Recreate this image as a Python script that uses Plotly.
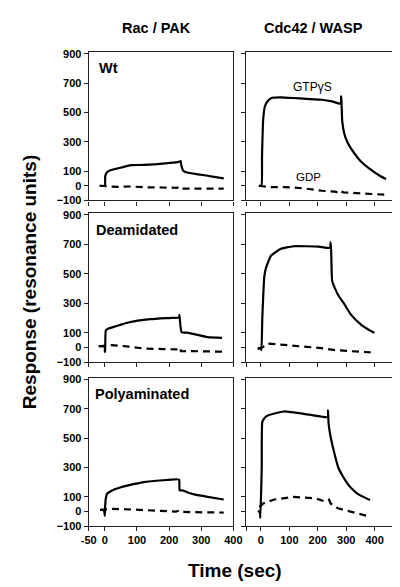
import plotly.graph_objects as go

# ---------------- data ----------------
# Rac / PAK, Wt
rac_wt_t = [-16, 0, 1, 3, 10, 18, 40, 82, 120, 162, 200, 230, 236, 238, 245, 256, 290, 320, 350, 370]
rac_wt_gtp = [0, 0, 60, 79, 98, 106, 118, 140, 142, 147, 155, 163, 169, 140, 100, 90, 78, 68, 57, 50]
rac_wt_gdp_t = [-16, 10, 40, 80, 120, 180, 225, 230, 234, 250, 300, 370]
rac_wt_gdp = [0, -2, -8, -5, -10, -12, -14, -8, -20, -20, -18, -20]

# Cdc42 / WASP, Wt
cdc_wt_t = [-7, 2, 4, 8, 14, 25, 40, 70, 114, 160, 215, 250, 281, 282, 283, 286, 294, 305, 327, 350, 384, 418, 440]
cdc_wt_gtp = [0, 0, 200, 450, 540, 580, 600, 603, 598, 592, 586, 575, 559, 610, 590, 440, 349, 293, 225, 169, 113, 68, 45]
cdc_wt_gdp_t = [-7, 36, 80, 114, 160, 215, 260, 275, 280, 290, 350, 438]
cdc_wt_gdp = [0, -10, -10, -12, -20, -34, -40, -48, -36, -45, -52, -61]

# Rac / PAK, Deamidated
rac_de_t = [-19, -5, 0, 0, 1, 3, 10, 23, 50, 73, 142, 200, 231, 232, 233, 239, 260, 281, 320, 365]
rac_de_gtp = [9, 8, 5, -30, -20, 115, 128, 137, 155, 170, 192, 200, 204, 222, 200, 104, 100, 89, 71, 66]
rac_de_gdp_t = [-19, 20, 60, 122, 180, 231, 234, 237, 266, 320, 365]
rac_de_gdp = [9, 16, 10, -7, -10, -13, -2, -25, -24, -26, -28]

# Cdc42 / WASP, Deamidated
cdc_de_t = [-11, 0, 2, 5, 8, 12, 19, 36, 69, 114, 160, 204, 243, 245, 247, 251, 271, 294, 316, 350, 384, 399]
cdc_de_gtp = [-7, -7, -17, 200, 336, 480, 546, 623, 668, 686, 686, 683, 674, 712, 660, 447, 358, 292, 225, 159, 115, 100]
cdc_de_gdp_t = [-11, 5, 25, 70, 114, 160, 204, 260, 320, 386]
cdc_de_gdp = [-7, 0, 27, 18, 11, 5, -2, -17, -25, -33]

# Rac / PAK, Polyaminated
rac_po_t = [-15, -3, 0, 1, 3, 7, 23, 50, 73, 122, 192, 231, 232, 233, 242, 260, 281, 320, 370]
rac_po_gtp = [11, 11, -29, 40, 89, 122, 144, 165, 178, 200, 215, 218, 180, 144, 144, 128, 115, 100, 82]
rac_po_gdp_t = [-15, 23, 70, 122, 180, 221, 234, 240, 266, 320, 370]
rac_po_gdp = [11, 18, 15, 11, 5, 0, 8, -2, -4, -6, -7]

# Cdc42 / WASP, Polyaminated
cdc_po_t = [-11, -4, -2, 3, 5, 14, 25, 81, 171, 235, 236, 238, 244, 258, 272, 288, 305, 320, 339, 360, 384]
cdc_po_gtp = [0, 0, -44, 300, 611, 640, 655, 682, 660, 644, 689, 600, 522, 400, 300, 240, 189, 155, 122, 100, 78]
cdc_po_gdp_t = [-5, 8, 47, 114, 193, 227, 240, 245, 271, 320, 372]
cdc_po_gdp = [30, 55, 82, 100, 89, 67, 80, 55, 22, -5, -29]

y_ticks = [-100, 0, 100, 300, 500, 700, 900]
x_ticks = [-50, 0, 100, 200, 300, 400]
col_titles = ["Rac / PAK", "Cdc42 / WASP"]
row_labels = ["Wt", "Deamidated", "Polyaminated"]

panels = [
    (rac_wt_t, rac_wt_gtp, rac_wt_gdp_t, rac_wt_gdp),
    (cdc_wt_t, cdc_wt_gtp, cdc_wt_gdp_t, cdc_wt_gdp),
    (rac_de_t, rac_de_gtp, rac_de_gdp_t, rac_de_gdp),
    (cdc_de_t, cdc_de_gtp, cdc_de_gdp_t, cdc_de_gdp),
    (rac_po_t, rac_po_gtp, rac_po_gdp_t, rac_po_gdp),
    (cdc_po_t, cdc_po_gtp, cdc_po_gdp_t, cdc_po_gdp),
]

# ---------------- layout geometry (pixels) ----------------
W, H = 400, 587
col_px = [(76, 227), (240, 393)]
row_px = [(40, 191), (204, 356), (372, 523)]
x_ranges = [[-50, 400], [-53, 462]]
FONT = "Liberation Sans, Arial, sans-serif"

fig = go.Figure()
layout = dict(
    width=W, height=H, margin=dict(l=0, r=0, t=0, b=0),
    paper_bgcolor="white", plot_bgcolor="white", showlegend=False,
    font=dict(family=FONT, color="black"),
)

for i, (t1, v1, t2, v2) in enumerate(panels):
    r, c = divmod(i, 2)
    n = i + 1
    xa = "x" if n == 1 else f"x{n}"
    ya = "y" if n == 1 else f"y{n}"
    fig.add_trace(go.Scatter(x=t1, y=v1, mode="lines", xaxis=xa, yaxis=ya,
                             line=dict(color="black", width=2.2, shape="spline", smoothing=0.4)))
    fig.add_trace(go.Scatter(x=t2, y=v2, mode="lines", xaxis=xa, yaxis=ya,
                             line=dict(color="black", width=2.2, dash="7px,5px")))
    x0, x1 = col_px[c]
    y0, y1 = row_px[r]
    xkey = "xaxis" if n == 1 else f"xaxis{n}"
    ykey = "yaxis" if n == 1 else f"yaxis{n}"
    show_xlab = (r == 2)
    if c == 0:
        xtext = [str(v) for v in x_ticks]
    else:
        xtext = [""] + [str(v) for v in x_ticks[1:]]
    layout[xkey] = dict(
        domain=[x0 / W, x1 / W], anchor=ya, range=x_ranges[c],
        showgrid=False, zeroline=False, showline=True, mirror=True,
        linecolor="#222", linewidth=1.2,
        ticks="outside", ticklen=4, tickwidth=1, tickcolor="#222",
        tickvals=x_ticks, ticktext=xtext if show_xlab else [""] * len(x_ticks),
        tickfont=dict(family=FONT, size=11, color="black", weight="bold"),
        fixedrange=True,
    )
    layout[ykey] = dict(
        domain=[1 - y1 / H, 1 - y0 / H], anchor=xa, range=[-100, 910],
        showgrid=False, zeroline=False, showline=True, mirror=True,
        linecolor="#222", linewidth=1.2,
        ticks="outside", ticklen=4, tickwidth=1, tickcolor="#222",
        tickvals=y_ticks,
        ticktext=[str(v).replace("-", "\u2212") for v in y_ticks] if c == 0 else [""] * len(y_ticks),
        tickfont=dict(family=FONT, size=11, color="black", weight="bold"),
        fixedrange=True,
    )

ann = []
# column titles
for cx, txt in zip([147, 311], col_titles):
    ann.append(dict(x=cx / W, y=1 - 15 / H, xref="paper", yref="paper", text=f"<b>{txt}</b>",
                    showarrow=False, font=dict(size=14.5, family=FONT), xanchor="center", yanchor="middle"))
# row labels
for (lx, ly), txt in zip([(85, 56), (81, 221), (80, 388)], row_labels):
    ann.append(dict(x=lx / W, y=1 - ly / H, xref="paper", yref="paper", text=f"<b>{txt}</b>",
                    showarrow=False, font=dict(size=14.5, family=FONT), xanchor="left", yanchor="middle"))
# series labels
ann.append(dict(x=310 / W, y=1 - 75 / H, xref="paper", yref="paper", text="GTP\u03b3S",
                showarrow=False, font=dict(size=12, family=FONT), xanchor="center", yanchor="middle"))
ann.append(dict(x=305 / W, y=1 - 167 / H, xref="paper", yref="paper", text="GDP",
                showarrow=False, font=dict(size=11.5, family=FONT), xanchor="center", yanchor="middle"))
# axis titles
ann.append(dict(x=229 / W, y=1 - 568 / H, xref="paper", yref="paper", text="<b>Time (sec)</b>",
                showarrow=False, font=dict(size=19, family=FONT), xanchor="center", yanchor="middle"))
ann.append(dict(x=15 / W, y=1 - 274 / H, xref="paper", yref="paper", text="<b>Response (resonance units)</b>",
                showarrow=False, textangle=-90, font=dict(size=19, family=FONT), xanchor="center", yanchor="middle"))
layout["annotations"] = ann

fig.update_layout(**layout)
fig.write_html("out.html", config={"displayModeBar": False})
